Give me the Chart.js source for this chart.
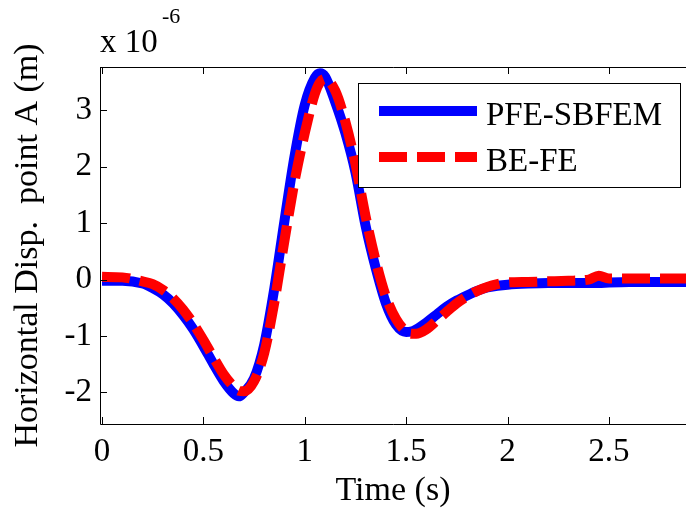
<!DOCTYPE html>
<html>
<head>
<meta charset="utf-8">
<script src="https://cdn.jsdelivr.net/npm/chart.js@4.4.1/dist/chart.umd.min.js"></script>
<style>
html, body { margin: 0; padding: 0; background: #fff; }
#wrap { width: 686px; height: 513px; }
</style>
</head>
<body>
<div id="wrap"><canvas id="myChart" width="686" height="513"></canvas></div>
<script>
// datos (desplazamiento x 1e-6 m)
const timeS = [0, 0.1, 0.2, 0.25, 0.3, 0.35, 0.4, 0.45, 0.5, 0.55, 0.6, 0.65, 0.675, 0.7, 0.75, 0.8, 0.85, 0.9, 0.95, 1.0,
    1.05, 1.075, 1.1, 1.15, 1.2, 1.25, 1.3, 1.35, 1.4, 1.45, 1.5, 1.525, 1.55, 1.6, 1.65, 1.7, 1.75, 1.8, 1.85, 1.9,
    1.95, 2.0, 2.1, 2.2, 2.3, 2.4, 2.45, 2.5, 2.6, 2.7, 2.8, 2.9];
const pfeSbfem = [-0.02, -0.02, -0.07, -0.15, -0.26, -0.42, -0.63, -0.88, -1.18, -1.5, -1.8, -2.02, -2.07, -2.0, -1.75, -1.15, -0.15, 1.05, 2.2, 3.1,
    3.58, 3.66, 3.6, 3.15, 2.6, 1.9, 0.95, 0.2, -0.42, -0.8, -0.93, -0.92, -0.88, -0.76, -0.62, -0.48, -0.37, -0.28, -0.2, -0.14,
    -0.11, -0.09, -0.07, -0.06, -0.06, -0.06, -0.06, -0.05, -0.04, -0.04, -0.04, -0.04];
const beFe = [0.05, 0.04, -0.03, -0.08, -0.18, -0.33, -0.53, -0.78, -1.07, -1.38, -1.68, -1.9, -1.97, -1.98, -1.8, -1.3, -0.4, 0.7, 1.75, 2.6,
    3.3, 3.5, 3.56, 3.35, 2.8, 2.05, 1.12, 0.33, -0.3, -0.7, -0.92, -0.96, -0.96, -0.88, -0.73, -0.57, -0.42, -0.3, -0.2, -0.13,
    -0.08, -0.05, -0.04, -0.03, -0.02, 0.0, 0.07, 0.02, 0.02, 0.02, 0.02, 0.02];
const seriesNames = ['PFE-SBFEM', 'BE-FE'];
const xTicks = [0, 0.5, 1, 1.5, 2, 2.5];
const yTicks = [-2, -1, 0, 1, 2, 3];
const xTitle = 'Time (s)';
const yTitle = 'Horizontal Disp.  point A (m)';

const fuente = "'Liberation Serif', 'Times New Roman', serif";

// marco, ticks hacia dentro, exponente y leyenda
const marco = {
    id: 'marco',
    afterDraw(chart) {
        const ctx = chart.ctx;
        const a = chart.chartArea;
        const x = chart.scales.x, y = chart.scales.y;
        ctx.save();
        ctx.strokeStyle = '#000';
        ctx.lineWidth = 1;
        ctx.beginPath();
        ctx.moveTo(a.left + 0.5, a.top + 0.5);
        ctx.lineTo(a.right, a.top + 0.5);
        ctx.moveTo(a.left + 0.5, a.top);
        ctx.lineTo(a.left + 0.5, a.bottom + 0.5);
        ctx.lineTo(a.right, a.bottom + 0.5);
        xTicks.forEach(v => {
            const px = Math.round(x.getPixelForValue(v)) + 0.5;
            ctx.moveTo(px, a.bottom);
            ctx.lineTo(px, a.bottom - 7);
            ctx.moveTo(px, a.top);
            ctx.lineTo(px, a.top + 7);
        });
        yTicks.forEach(v => {
            const py = Math.round(y.getPixelForValue(v)) + 0.5;
            ctx.moveTo(a.left, py);
            ctx.lineTo(a.left + 7, py);
        });
        ctx.stroke();

        // x 10^-6
        ctx.fillStyle = '#000';
        ctx.textBaseline = 'alphabetic';
        ctx.textAlign = 'left';
        ctx.font = '33px ' + fuente;
        ctx.fillText('x 10', 100, 52);
        ctx.font = '22px ' + fuente;
        ctx.fillText('-6', 162, 23);

        // leyenda
        const bx = 358, by = 83, bw = 322, bh = 104;
        ctx.fillStyle = '#fff';
        ctx.fillRect(bx, by, bw, bh);
        ctx.strokeRect(bx + 0.5, by + 0.5, bw, bh);
        chart.data.datasets.forEach((d, i) => {
            const ly = i === 0 ? 111 : 157;
            ctx.beginPath();
            ctx.strokeStyle = d.borderColor;
            ctx.lineWidth = d.borderWidth;
            ctx.setLineDash(d.borderDash || []);
            ctx.moveTo(379, ly);
            ctx.lineTo(477, ly);
            ctx.stroke();
            ctx.setLineDash([]);
            ctx.fillStyle = '#000';
            ctx.font = '33px ' + fuente;
            ctx.textBaseline = 'alphabetic';
            ctx.fillText(d.label, 486, ly + 14);
        });
        ctx.restore();
    }
};

const ctx = document.getElementById('myChart').getContext('2d');
const myChart = new Chart(ctx, {
    type: 'line',
    data: {
        datasets: [
            {
                label: seriesNames[0],
                data: timeS.map((t, i) => ({ x: t, y: pfeSbfem[i] })),
                borderColor: '#0000ff',
                borderWidth: 10,
                order: 2
            },
            {
                label: seriesNames[1],
                data: timeS.map((t, i) => ({ x: t, y: beFe[i] })),
                borderColor: '#ff0000',
                borderWidth: 10,
                borderDash: [28, 10],
                order: 1
            }
        ]
    },
    options: {
        responsive: false,
        animation: false,
        layout: { padding: { top: 67, right: 0, left: 0, bottom: 0 } },
        elements: {
            point: { radius: 0 },
            line: { cubicInterpolationMode: 'monotone', fill: false }
        },
        plugins: {
            legend: { display: false },
            tooltip: { enabled: false }
        },
        scales: {
            x: {
                type: 'linear',
                min: -0.01,
                max: 2.88,
                grid: { display: false, drawTicks: false, tickLength: 0 },
                border: { display: false },
                afterBuildTicks: s => { s.ticks = xTicks.map(v => ({ value: v })); },
                afterFit: s => { s.height = 89; },
                ticks: { color: '#000', padding: 9, maxRotation: 0, font: { family: fuente, size: 33 }, callback: v => String(v) },
                title: { display: true, text: xTitle, color: '#000', padding: { top: 0, bottom: 2 }, font: { family: fuente, size: 34 } }
            },
            y: {
                min: -2.56,
                max: 3.77,
                grid: { display: false, drawTicks: false, tickLength: 0 },
                border: { display: false },
                afterBuildTicks: s => { s.ticks = yTicks.map(v => ({ value: v })); },
                afterFit: s => { s.width = 100; },
                ticks: { color: '#000', padding: 8, font: { family: fuente, size: 33 }, callback: v => String(v) },
                title: { display: true, text: yTitle, color: '#000', padding: { top: 8, bottom: 0 }, font: { family: fuente, size: 34 } }
            }
        }
    },
    plugins: [marco]
});
</script>
</body>
</html>
